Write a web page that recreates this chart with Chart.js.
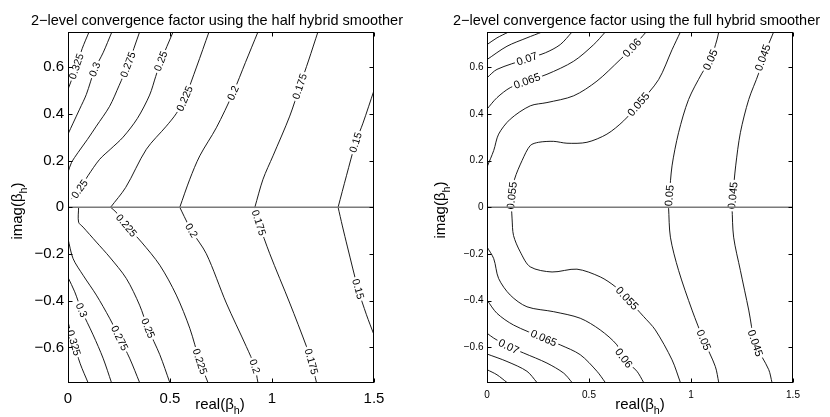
<!DOCTYPE html>
<html><head><meta charset="utf-8">
<script src="https://cdn.jsdelivr.net/npm/chart.js@4.4.1/dist/chart.umd.min.js"></script>
<style>
html,body{margin:0;padding:0;background:#fff;}
#wrap{position:relative;width:830px;height:417px;overflow:hidden;background:#fff;}
canvas{position:absolute;top:0;}
</style></head><body>
<div id="wrap">
<canvas id="c1" width="415" height="417" style="left:0"></canvas>
<canvas id="c2" width="415" height="417" style="left:415px"></canvas>
</div>
<script>
// ---------- axis data ----------
const xRange = [0, 1.5];
const yRange = [-0.75, 0.75];
const xTicks = [0, 0.5, 1, 1.5];
const yTicks = [-0.6, -0.4, -0.2, 0, 0.2, 0.4, 0.6];

// ---------- half hybrid smoother contours ----------
const halfUp325 = [[0,0.505],[0.012,0.532],[0.041,0.603],[0.07,0.68],[0.103,0.75]];
const halfUp300 = [[0,0.313],[0.025,0.36],[0.057,0.42],[0.09,0.483],[0.131,0.59],[0.172,0.661],[0.215,0.75]];
const halfUp275 = [[0,0.15],[0.017,0.191],[0.049,0.234],[0.095,0.29],[0.139,0.347],[0.204,0.432],[0.25,0.52],[0.294,0.61],[0.351,0.75]];
const halfUp250 = [[0.017,0.035],[0.057,0.078],[0.098,0.135],[0.155,0.205],[0.21,0.25],[0.27,0.3],[0.34,0.38],[0.4,0.48],[0.43,0.56],[0.455,0.625],[0.515,0.75]];
const halfUp225 = [[0.209,0],[0.283,0.085],[0.384,0.248],[0.482,0.347],[0.53,0.40],[0.572,0.465],[0.63,0.6],[0.691,0.75]];
const halfUp200 = [[0.548,0],[0.597,0.12],[0.646,0.22],[0.727,0.34],[0.809,0.489],[0.87,0.62],[0.931,0.75]];
const halfUp175 = [[0.916,0],[0.956,0.12],[1.005,0.22],[1.087,0.39],[1.136,0.517],[1.18,0.63],[1.225,0.75]];
const halfUp150 = [[1.324,0],[1.365,0.135],[1.41,0.277],[1.446,0.36],[1.5,0.5]];
const halfLo325 = [[0,-0.49],[0.012,-0.53],[0.028,-0.58],[0.06,-0.67],[0.098,-0.75]];
const halfLo300 = [[0,-0.3],[0.033,-0.362],[0.066,-0.44],[0.123,-0.546],[0.172,-0.646],[0.213,-0.75]];
const halfLo275 = [[0,-0.135],[0.025,-0.22],[0.074,-0.291],[0.139,-0.376],[0.204,-0.475],[0.253,-0.56],[0.302,-0.646],[0.351,-0.75]];
const halfLo250 = [[0.052,0],[0.052,-0.064],[0.074,-0.085],[0.139,-0.149],[0.204,-0.213],[0.286,-0.305],[0.351,-0.419],[0.392,-0.518],[0.45,-0.631],[0.499,-0.75]];
const halfLo225 = [[0.209,0],[0.24,-0.025],[0.286,-0.078],[0.36,-0.149],[0.45,-0.248],[0.531,-0.376],[0.597,-0.518],[0.646,-0.66],[0.686,-0.75]];
const halfLo200 = [[0.548,0],[0.57,-0.04],[0.605,-0.1],[0.678,-0.199],[0.776,-0.41],[0.874,-0.596],[0.915,-0.681],[0.931,-0.75]];
const halfLo175 = [[0.916,0],[0.935,-0.066],[0.989,-0.199],[1.087,-0.41],[1.169,-0.596],[1.193,-0.66],[1.218,-0.75]];
const halfLo150 = [[1.324,0],[1.345,-0.08],[1.37,-0.17],[1.422,-0.35],[1.463,-0.46],[1.5,-0.546]];

// ---------- full hybrid smoother contours ----------
const fullUpA   = [[0,0.696],[0.049,0.725],[0.106,0.75]];
const fullUpB   = [[0,0.632],[0.098,0.689],[0.196,0.725],[0.27,0.75]];
const fullUp070 = [[0,0.554],[0.049,0.59],[0.196,0.635],[0.286,0.661],[0.359,0.696],[0.417,0.75]];
const fullUp065 = [[0,0.42],[0.049,0.469],[0.114,0.512],[0.196,0.54],[0.294,0.569],[0.425,0.625],[0.523,0.696],[0.58,0.75]];
const fullUp060 = [[0,0.172],[0.033,0.243],[0.057,0.313],[0.114,0.377],[0.212,0.434],[0.294,0.448],[0.425,0.477],[0.539,0.54],[0.653,0.632],[0.711,0.682],[0.78,0.75]];
const fullUp055 = [[0.12,0],[0.122,0.05],[0.135,0.12],[0.172,0.2],[0.212,0.264],[0.253,0.278],[0.327,0.282],[0.392,0.274],[0.49,0.278],[0.588,0.313],[0.67,0.37],[0.743,0.441],[0.841,0.546],[0.907,0.674],[0.948,0.75]];
const fullUp050 = [[0.89,0],[0.894,0.05],[0.907,0.177],[0.939,0.319],[0.988,0.461],[1.054,0.574],[1.095,0.631],[1.127,0.716],[1.136,0.75]];
const fullUp045 = [[1.201,0],[1.205,0.05],[1.219,0.177],[1.242,0.319],[1.283,0.461],[1.332,0.574],[1.352,0.64],[1.389,0.716],[1.405,0.75]];
const fullLo055 = [[0.12,0],[0.123,-0.05],[0.13,-0.121],[0.163,-0.191],[0.212,-0.255],[0.319,-0.277],[0.441,-0.265],[0.555,-0.298],[0.629,-0.34],[0.686,-0.39],[0.768,-0.468],[0.825,-0.525],[0.907,-0.653],[0.948,-0.75]];
const fullLo060 = [[0,-0.17],[0.033,-0.22],[0.057,-0.305],[0.114,-0.376],[0.196,-0.426],[0.327,-0.447],[0.457,-0.475],[0.555,-0.525],[0.637,-0.589],[0.67,-0.646],[0.735,-0.702],[0.768,-0.75]];
const fullLo065 = [[0,-0.397],[0.049,-0.454],[0.13,-0.504],[0.278,-0.56],[0.359,-0.589],[0.457,-0.631],[0.539,-0.702],[0.58,-0.75]];
const fullLo070 = [[0,-0.539],[0.033,-0.56],[0.106,-0.596],[0.18,-0.624],[0.294,-0.667],[0.376,-0.71],[0.417,-0.75]];
const fullLoB   = [[0,-0.628],[0.098,-0.66],[0.196,-0.702],[0.245,-0.75]];
const fullLoA   = [[0,-0.695],[0.049,-0.717],[0.098,-0.75]];
const fullLo050 = [[0.89,0],[0.899,-0.128],[0.939,-0.27],[1.005,-0.44],[1.062,-0.568],[1.119,-0.681],[1.136,-0.75]];
const fullLo045 = [[1.201,0],[1.209,-0.128],[1.242,-0.27],[1.283,-0.44],[1.315,-0.582],[1.381,-0.695],[1.397,-0.75]];

// contour level text and which point carries an inline label
const halfContours = [
  {pts: halfUp325, text: '0.325', at: [2]},
  {pts: halfUp300, text: '0.3',   at: [4]},
  {pts: halfUp275, text: '0.275', at: [7]},
  {pts: halfUp250, text: '0.25',  at: [1, 9]},
  {pts: halfUp225, text: '0.225', at: [5]},
  {pts: halfUp200, text: '0.2',   at: [4]},
  {pts: halfUp175, text: '0.175', at: [4]},
  {pts: halfUp150, text: '0.15',  at: [2]},
  {pts: halfLo325, text: '0.325', at: [2]},
  {pts: halfLo300, text: '0.3',   at: [2]},
  {pts: halfLo275, text: '0.275', at: [5]},
  {pts: halfLo250, text: '0.25',  at: [7]},
  {pts: halfLo225, text: '0.225', at: [2, 7]},
  {pts: halfLo200, text: '0.2',   at: [2, 6]},
  {pts: halfLo175, text: '0.175', at: [1, 5]},
  {pts: halfLo150, text: '0.15',  at: [3]}
];
const fullContours = [
  {pts: fullUpA,   text: '', at: []},
  {pts: fullUpB,   text: '', at: []},
  {pts: fullUp070, text: '0.07',  at: [2]},
  {pts: fullUp065, text: '0.065', at: [3]},
  {pts: fullUp060, text: '0.06',  at: [9]},
  {pts: fullUp055, text: '0.055', at: [1, 11]},
  {pts: fullUp050, text: '0.05',  at: [1, 6]},
  {pts: fullUp045, text: '0.045', at: [1, 6]},
  {pts: fullLo055, text: '0.055', at: [9]},
  {pts: fullLo060, text: '0.06',  at: [9]},
  {pts: fullLo065, text: '0.065', at: [3]},
  {pts: fullLo070, text: '0.07',  at: [2]},
  {pts: fullLoB,   text: '', at: []},
  {pts: fullLoA,   text: '', at: []},
  {pts: fullLo050, text: '0.05',  at: [4]},
  {pts: fullLo045, text: '0.045', at: [4]}
];

const titles = [
  '2\u2212level convergence factor using the half hybrid smoother',
  '2\u2212level convergence factor using the full hybrid smoother'
];

// ---------- rendering ----------
const FONT = '"Liberation Sans", Arial, Helvetica, sans-serif';

function fmtTick(v) {
  const r = Math.round(v * 10) / 10;
  if (r === 0) return '0';
  return (r < 0 ? '\u2212' : '') + String(Math.abs(r));
}

function drawSubTitle(ctx, cx, cy, rot, size) {
  const main = rot ? 'imag(\u03b2' : 'real(\u03b2';
  const sub = 'h', tail = ')';
  const subSize = size * 0.72;
  ctx.save();
  ctx.translate(cx, cy);
  if (rot) ctx.rotate(-Math.PI / 2);
  ctx.fillStyle = '#000';
  ctx.textBaseline = 'alphabetic';
  ctx.textAlign = 'left';
  ctx.font = size + 'px ' + FONT;
  const w1 = ctx.measureText(main).width, w3 = ctx.measureText(tail).width;
  ctx.font = subSize + 'px ' + FONT;
  const w2 = ctx.measureText(sub).width;
  let x = -(w1 + w2 + w3) / 2;
  ctx.font = size + 'px ' + FONT;
  ctx.fillText(main, x, 0); x += w1;
  ctx.font = subSize + 'px ' + FONT;
  ctx.fillText(sub, x, size * 0.3); x += w2;
  ctx.font = size + 'px ' + FONT;
  ctx.fillText(tail, x, 0);
  ctx.restore();
}

const decoPlugin = {
  id: 'deco',
  afterDatasetsDraw(chart) {
    const o = chart.options.plugins.deco;
    const ctx = chart.ctx, xs = chart.scales.x, ys = chart.scales.y, a = chart.chartArea;
    ctx.save();
    ctx.beginPath();
    ctx.rect(a.left, a.top, a.right - a.left, a.bottom - a.top);
    ctx.clip();
    // inline contour labels
    ctx.font = o.labelSize + 'px ' + FONT;
    ctx.textAlign = 'center';
    ctx.textBaseline = 'middle';
    chart.data.datasets.forEach(ds => {
      if (!ds.labelText) return;
      const pts = ds.data;
      ds.labelAt.forEach(i => {
        const p = pts[i];
        const pa = pts[Math.max(0, i - 1)], pb = pts[Math.min(pts.length - 1, i + 1)];
        const px = xs.getPixelForValue(p.x), py = ys.getPixelForValue(p.y);
        const dx = xs.getPixelForValue(pb.x) - xs.getPixelForValue(pa.x);
        const dy = ys.getPixelForValue(pb.y) - ys.getPixelForValue(pa.y);
        let ang = Math.atan2(dy, dx);
        if (ang > Math.PI / 2 + 1e-6) ang -= Math.PI;
        if (ang < -Math.PI / 2 - 1e-6) ang += Math.PI;
        const w = ctx.measureText(ds.labelText).width;
        ctx.save();
        ctx.translate(px, py);
        ctx.rotate(ang);
        ctx.fillStyle = '#fff';
        ctx.fillRect(-w / 2 - 2, -o.labelSize * 0.42, w + 4, o.labelSize * 0.84);
        ctx.fillStyle = '#000';
        ctx.fillText(ds.labelText, 0, 0.5);
        ctx.restore();
      });
    });
    // real axis line
    const y0 = ys.getPixelForValue(0);
    ctx.strokeStyle = '#7a7a7a';
    ctx.lineWidth = 1.4;
    ctx.beginPath();
    ctx.moveTo(xs.getPixelForValue(xRange[0]), y0);
    ctx.lineTo(xs.getPixelForValue(xRange[1]), y0);
    ctx.stroke();
    ctx.restore();

    // frame and inward ticks
    ctx.save();
    ctx.strokeStyle = '#000';
    ctx.lineWidth = 1;
    const L = Math.round(a.left) + 0.5, R = Math.round(a.right) - 0.5;
    const T = Math.round(a.top) + 0.5, B = Math.round(a.bottom) - 0.5;
    ctx.strokeRect(L, T, R - L, B - T);
    const tl = 4;
    ctx.beginPath();
    xTicks.forEach(v => {
      const x = Math.round(xs.getPixelForValue(v)) + 0.5;
      ctx.moveTo(x, B); ctx.lineTo(x, B - tl);
      ctx.moveTo(x, T); ctx.lineTo(x, T + tl);
    });
    yTicks.forEach(v => {
      const y = Math.round(ys.getPixelForValue(v)) + 0.5;
      ctx.moveTo(L, y); ctx.lineTo(L + tl, y);
      ctx.moveTo(R, y); ctx.lineTo(R - tl, y);
    });
    ctx.stroke();
    ctx.restore();
  },
  afterDraw(chart) {
    const o = chart.options.plugins.deco;
    const ctx = chart.ctx;
    ctx.save();
    ctx.fillStyle = '#000';
    ctx.font = o.titleSize + 'px ' + FONT;
    ctx.textAlign = 'center';
    ctx.textBaseline = 'alphabetic';
    ctx.fillText(o.title, o.titleX, o.titleY);
    ctx.restore();
    drawSubTitle(ctx, o.xTitleX, o.xTitleY, false, o.axisTitleSize);
    drawSubTitle(ctx, o.yTitleX, o.yTitleY, true, o.axisTitleSize);
  }
};

function makeChart(id, contours, g) {
  const datasets = contours.map(c => ({
    data: c.pts.map(p => ({x: p[0], y: p[1]})),
    labelText: c.text,
    labelAt: c.at,
    showLine: true,
    borderColor: '#000',
    borderWidth: 0.9,
    pointRadius: 0,
    pointHoverRadius: 0,
    tension: 0.3,
    fill: false
  }));
  return new Chart(document.getElementById(id), {
    type: 'scatter',
    data: {datasets},
    plugins: [decoPlugin],
    options: {
      responsive: false,
      animation: false,
      devicePixelRatio: 1,
      events: [],
      layout: {padding: {top: g.top, right: g.right, bottom: 0, left: 0}},
      plugins: {
        legend: {display: false},
        tooltip: {enabled: false},
        title: {display: false},
        deco: g.deco
      },
      scales: {
        x: {
          type: 'linear', min: xRange[0], max: xRange[1],
          afterBuildTicks: s => { s.ticks = xTicks.map(v => ({value: v})); },
          afterFit: s => { s.height = g.xAxisH; },
          grid: {display: false, drawTicks: false},
          border: {display: false},
          ticks: {autoSkip: false, maxRotation: 0, padding: g.xPad, color: '#000',
                  font: {family: FONT, size: g.tickSize}, callback: v => fmtTick(v)}
        },
        y: {
          type: 'linear', min: yRange[0], max: yRange[1],
          afterBuildTicks: s => { s.ticks = yTicks.map(v => ({value: v})); },
          afterFit: s => { s.width = g.yAxisW; },
          grid: {display: false, drawTicks: false},
          border: {display: false},
          ticks: {autoSkip: false, padding: g.yPad, color: '#000',
                  font: {family: FONT, size: g.tickSize}, callback: v => fmtTick(v)}
        }
      }
    }
  });
}

makeChart('c1', halfContours, {
  top: 32, right: 41, xAxisH: 34.5, yAxisW: 68, xPad: 7, yPad: 4, tickSize: 15,
  deco: {labelSize: 10.5, title: titles[0], titleX: 217, titleY: 25, titleSize: 14.5,
         axisTitleSize: 15, xTitleX: 220, xTitleY: 409, yTitleX: 22, yTitleY: 211}
});
makeChart('c2', fullContours, {
  top: 32, right: 37, xAxisH: 34.5, yAxisW: 72, xPad: 7, yPad: 3.5, tickSize: 10,
  deco: {labelSize: 11, title: titles[1], titleX: 221.5, titleY: 25, titleSize: 14.5,
         axisTitleSize: 15, xTitleX: 225, xTitleY: 409, yTitleX: 30, yTitleY: 210}
});
</script>
</body></html>
